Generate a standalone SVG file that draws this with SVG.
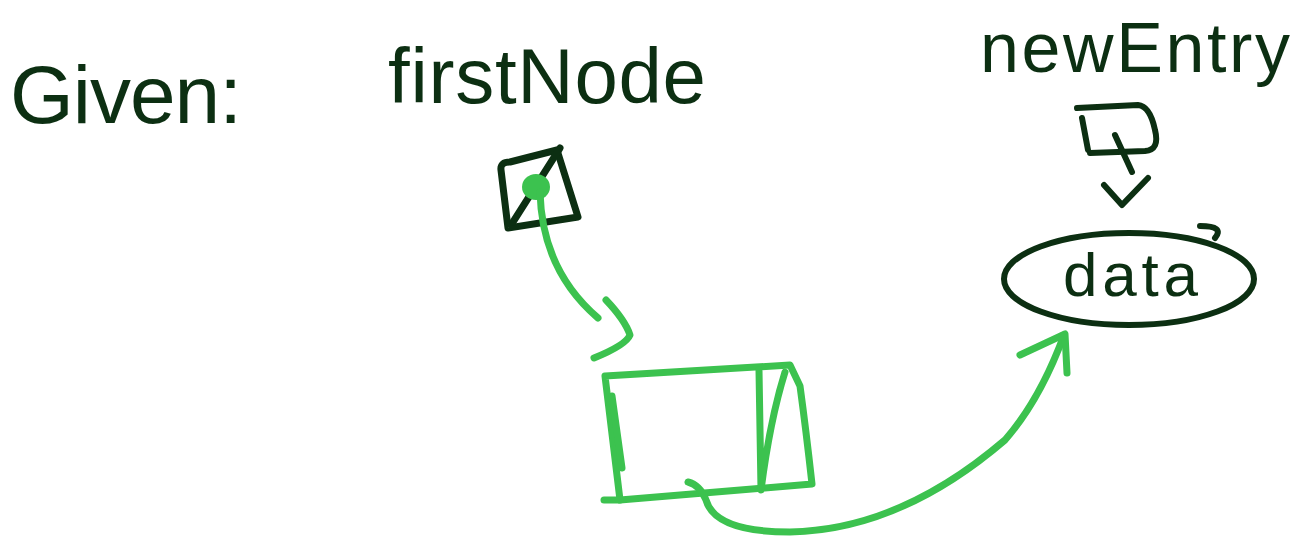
<svg xmlns="http://www.w3.org/2000/svg" width="1298" height="542" viewBox="0 0 1298 542">
<style>
.ink{fill:none;stroke:#0c2f12;stroke-width:6;stroke-linecap:round;stroke-linejoin:round}
.grn{fill:none;stroke:#3cc24f;stroke-width:7;stroke-linecap:round;stroke-linejoin:round}
.txt{font-family:"Liberation Sans",Arial,sans-serif;fill:#0c2f12}
</style>
<rect width="1298" height="542" fill="#ffffff"/>
<g id="given">
<text class="txt" x="10" y="123" font-size="82" textLength="232">Given:</text>
</g>
<g id="firstNode">
<text class="txt" x="388" y="103" font-size="78" textLength="318">firstNode</text>
<path class="ink" style="stroke-width:7" d="M501,170 Q500,162 510,162 L557,150 L578,217 L508,228 Z"/>
<path class="ink" style="stroke-width:7" d="M513,222 L560,148"/>
<ellipse cx="536" cy="187" rx="14" ry="13" fill="#3cc24f"/>
</g>
<g id="newEntry">
<text class="txt" x="980" y="72" font-size="70" textLength="310">newEntry</text>
<path class="ink" d="M1077,108 L1138,105 Q1150,106 1155,130 Q1160,150 1145,151 L1090,153"/>
<path class="ink" d="M1082,118 L1088,150"/>
<path class="ink" d="M1115,135 L1132,172"/>
</g>
<g id="data">
<ellipse class="ink" cx="1129" cy="279" rx="125" ry="46"/>
<path class="ink" d="M1200,226 Q1225,226 1215,238"/>
<text class="txt" x="1063" y="296" font-size="62" textLength="135">data</text>
</g>
<g id="listNode">
<path class="grn" d="M605,376 L790,365 L800,386 Q806,430 812,484 L620,500 L605,376"/>
<path class="grn" d="M604,500 L620,500"/>
<path class="grn" d="M612,396 L622,468"/>
<path class="grn" d="M759,370 L761,490 Q770,420 785,372"/>
</g>
<g id="connectors">
<path class="ink" d="M1104,185 L1122,205 L1148,178"/>
<path class="grn" d="M540,192 Q542,270 598,318"/>
<path class="grn" d="M606,300 Q625,320 630,335 Q626,345 594,358"/>
<path class="grn" d="M688,482 Q700,485 706,500 Q715,532 790,532 Q900,530 1005,440 Q1040,400 1064,335"/>
<path class="grn" d="M1020,355 L1065,334 L1067,373"/>
</g>
</svg>
